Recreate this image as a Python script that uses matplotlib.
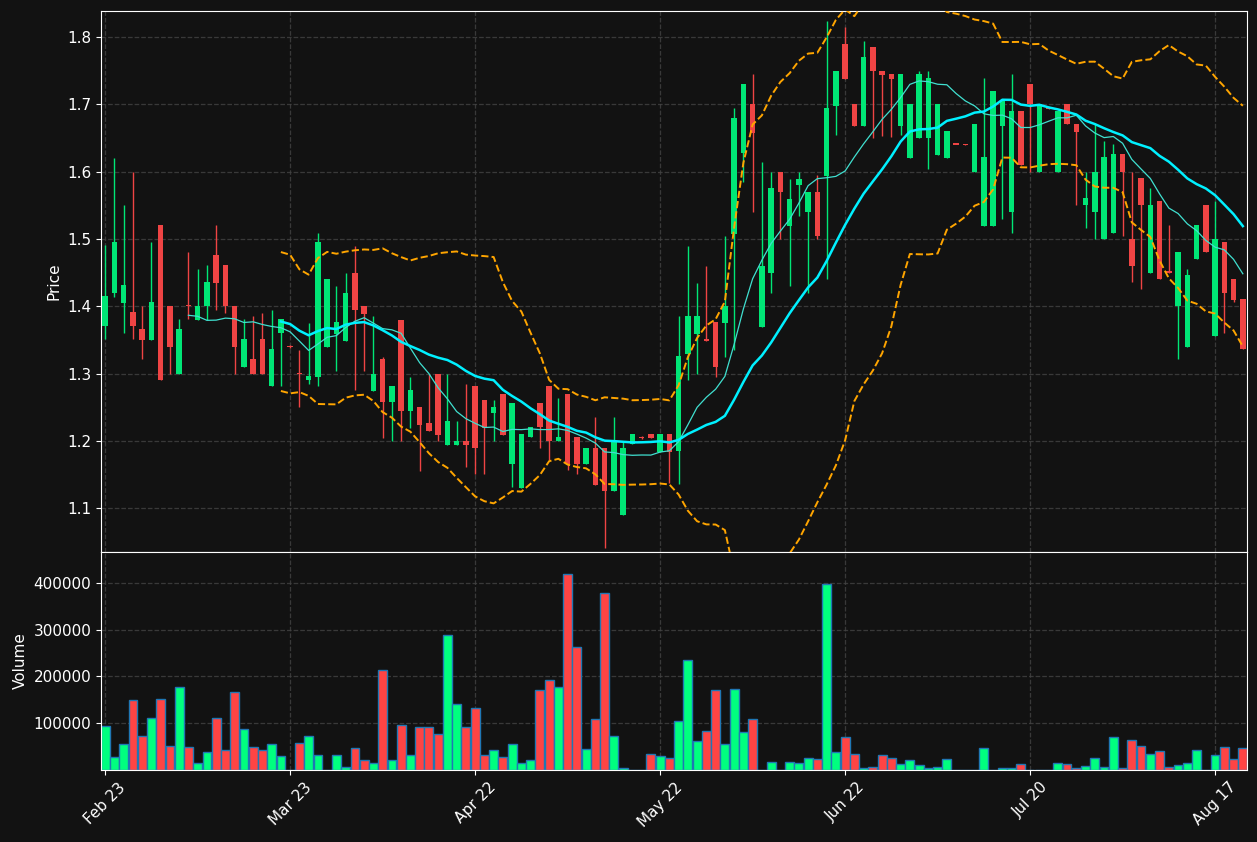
import numpy as np
import pandas as pd
import matplotlib
matplotlib.use("Agg")
import matplotlib.pyplot as plt

# OHLC, one row per trading day
opens = [1.37, 1.42, 1.405, 1.391, 1.366, 1.35, 1.521, 1.4, 1.3, 1.4,
         1.38, 1.4, 1.476, 1.461, 1.4, 1.31, 1.322, 1.351, 1.281, 1.36,
         1.341, 1.3, 1.29, 1.295, 1.339, 1.358, 1.349, 1.45, 1.4, 1.274,
         1.321, 1.258, 1.38, 1.244, 1.25, 1.226, 1.3, 1.194, 1.194, 1.2,
         1.281, 1.26, 1.241, 1.27, 1.165, 1.13, 1.205, 1.256, 1.281, 1.2,
         1.27, 1.205, 1.165, 1.19, 1.19, 1.125, 1.09, 1.195, 1.206, 1.21,
         1.184, 1.21, 1.185, 1.329, 1.359, 1.351, 1.376, 1.375, 1.508, 1.628,
         1.7, 1.369, 1.449, 1.6, 1.519, 1.58, 1.54, 1.57, 1.594, 1.698,
         1.79, 1.7, 1.668, 1.785, 1.75, 1.745, 1.668, 1.62, 1.65, 1.65,
         1.625, 1.62, 1.64, 1.641, 1.6, 1.519, 1.519, 1.668, 1.54, 1.69,
         1.73, 1.6, 1.695, 1.6, 1.7, 1.671, 1.55, 1.54, 1.5, 1.509,
         1.626, 1.5, 1.591, 1.45, 1.556, 1.452, 1.4, 1.34, 1.47, 1.55,
         1.355, 1.495, 1.44, 1.411]
highs = [1.491, 1.62, 1.55, 1.6, 1.4, 1.495, 1.521, 1.4, 1.381, 1.48,
         1.455, 1.461, 1.521, 1.461, 1.4, 1.381, 1.386, 1.39, 1.395, 1.381,
         1.342, 1.335, 1.375, 1.509, 1.44, 1.43, 1.45, 1.49, 1.4, 1.385,
         1.325, 1.281, 1.38, 1.295, 1.25, 1.3, 1.3, 1.3, 1.23, 1.285,
         1.281, 1.26, 1.26, 1.27, 1.256, 1.21, 1.22, 1.256, 1.281, 1.264,
         1.27, 1.205, 1.19, 1.235, 1.19, 1.235, 1.2, 1.21, 1.207, 1.21,
         1.21, 1.21, 1.385, 1.489, 1.435, 1.46, 1.376, 1.504, 1.694, 1.73,
         1.745, 1.614, 1.6, 1.6, 1.589, 1.6, 1.57, 1.595, 1.824, 1.75,
         1.815, 1.7, 1.794, 1.785, 1.75, 1.745, 1.745, 1.7, 1.75, 1.75,
         1.7, 1.66, 1.64, 1.641, 1.67, 1.739, 1.72, 1.705, 1.745, 1.69,
         1.73, 1.7, 1.695, 1.692, 1.7, 1.671, 1.6, 1.671, 1.645, 1.641,
         1.626, 1.6, 1.591, 1.575, 1.556, 1.52, 1.48, 1.455, 1.521, 1.55,
         1.556, 1.495, 1.44, 1.411]
lows = [1.351, 1.414, 1.36, 1.351, 1.321, 1.35, 1.29, 1.3, 1.3, 1.381,
        1.38, 1.38, 1.395, 1.39, 1.3, 1.31, 1.3, 1.3, 1.281, 1.282,
        1.338, 1.25, 1.285, 1.281, 1.339, 1.304, 1.349, 1.275, 1.304, 1.274,
        1.204, 1.2, 1.2, 1.219, 1.155, 1.214, 1.2, 1.194, 1.194, 1.161,
        1.151, 1.151, 1.2, 1.209, 1.131, 1.13, 1.205, 1.19, 1.172, 1.2,
        1.156, 1.151, 1.165, 1.135, 1.041, 1.125, 1.09, 1.195, 1.203, 1.204,
        1.184, 1.137, 1.136, 1.29, 1.3, 1.349, 1.295, 1.325, 1.335, 1.584,
        1.54, 1.369, 1.419, 1.5, 1.43, 1.534, 1.419, 1.5, 1.44, 1.654,
        1.738, 1.668, 1.668, 1.65, 1.653, 1.652, 1.654, 1.62, 1.65, 1.604,
        1.625, 1.62, 1.64, 1.639, 1.6, 1.519, 1.519, 1.53, 1.509, 1.61,
        1.6, 1.6, 1.693, 1.6, 1.67, 1.55, 1.516, 1.5, 1.5, 1.509,
        1.505, 1.436, 1.426, 1.45, 1.44, 1.449, 1.321, 1.34, 1.47, 1.48,
        1.355, 1.36, 1.406, 1.336]
closes = [1.415, 1.496, 1.432, 1.37, 1.35, 1.406, 1.29, 1.34, 1.366, 1.4,
          1.4, 1.436, 1.435, 1.4, 1.34, 1.351, 1.3, 1.3, 1.337, 1.381,
          1.339, 1.299, 1.296, 1.495, 1.44, 1.376, 1.42, 1.394, 1.389, 1.3,
          1.258, 1.281, 1.244, 1.275, 1.224, 1.214, 1.209, 1.23, 1.2, 1.194,
          1.189, 1.219, 1.25, 1.209, 1.256, 1.21, 1.22, 1.22, 1.2, 1.205,
          1.165, 1.165, 1.19, 1.135, 1.125, 1.2, 1.19, 1.21, 1.204, 1.204,
          1.21, 1.184, 1.326, 1.385, 1.385, 1.349, 1.31, 1.4, 1.68, 1.73,
          1.658, 1.46, 1.575, 1.569, 1.56, 1.589, 1.57, 1.504, 1.694, 1.75,
          1.738, 1.668, 1.77, 1.749, 1.744, 1.738, 1.745, 1.7, 1.745, 1.739,
          1.7, 1.66, 1.64, 1.639, 1.67, 1.621, 1.72, 1.705, 1.69, 1.61,
          1.7, 1.7, 1.693, 1.69, 1.67, 1.659, 1.561, 1.6, 1.622, 1.626,
          1.6, 1.46, 1.55, 1.55, 1.44, 1.449, 1.48, 1.447, 1.521, 1.48,
          1.5, 1.42, 1.409, 1.336]
volumes = [94, 28, 55, 150, 72, 112, 152, 52, 178, 50,
           14, 38, 112, 42, 167, 87, 50, 42, 55, 29,
           0, 57, 72, 31, 1, 31, 6, 46, 21, 16,
           214, 21, 97, 31, 91, 91, 76, 289, 142, 91,
           133, 33, 42, 27, 55, 14, 21, 172, 193, 178,
           418, 263, 44, 108, 378, 72, 4, 1, 0, 35,
           29, 25, 104, 235, 63, 84, 172, 55, 174, 82,
           108, 1, 18, 1, 18, 14, 25, 23, 397, 38,
           70, 35, 4, 6, 31, 25, 12, 21, 10, 4,
           6, 23, 0, 1, 1, 46, 0, 4, 4, 12,
           1, 1, 0, 14, 12, 4, 8, 25, 6, 70,
           4, 65, 52, 35, 40, 6, 10, 16, 42, 1,
           33, 50, 23, 46]
volumes = [v * 1000 for v in volumes]

tick_pos = [0, 20, 40, 60, 80, 100, 120]
tick_labels = ["Feb 23", "Mar 23", "Apr 22", "May 22", "Jun 22", "Jul 20", "Aug 17"]

df = pd.DataFrame({"open": opens, "high": highs, "low": lows,
                   "close": closes, "volume": volumes})
df["ma10"] = df["close"].rolling(10).mean()
df["ma20"] = df["close"].rolling(20).mean()
std20 = df["close"].rolling(20).std(ddof=0)
df["upper"] = df["ma20"] + 2 * std20
df["lower"] = df["ma20"] - 2 * std20

BG = "#121212"
UP = "#00e676"
DOWN = "#ef4444"
VUP = "#00ff7f"
VDOWN = "#ff4444"

fig = plt.figure(figsize=(12.57, 8.42), dpi=100, facecolor=BG)
ax = fig.add_axes([101 / 1257, 1 - 552 / 842, 1146 / 1257, 541 / 842])
axv = fig.add_axes([101 / 1257, 1 - 770 / 842, 1146 / 1257, 218 / 842], sharex=ax)

x = np.arange(len(df))
up = df["close"] > df["open"]
colors = np.where(up, UP, DOWN)

ax.vlines(x, df["low"], df["high"], colors=colors, linewidth=1, zorder=2)
body_lo = np.minimum(df["open"], df["close"])
body_h = np.maximum((df["close"] - df["open"]).abs(), 0.002)
ax.bar(x, body_h, bottom=body_lo, width=0.6, color=colors, zorder=3)

ax.plot(x, df["ma10"], color="#40e0d0", lw=0.9, zorder=4)
ax.plot(x, df["ma20"], color="#00f0ff", lw=1.8, zorder=4)
ax.plot(x, df["upper"], color="#ffa500", lw=1.4, ls="--", zorder=4)
ax.plot(x, df["lower"], color="#ffa500", lw=1.4, ls="--", zorder=4)

vcolors = np.where(up, VUP, VDOWN)
axv.bar(x, df["volume"], width=0.95, color=vcolors, edgecolor="#1f77b4", linewidth=1)

for a in (ax, axv):
    a.set_facecolor(BG)
    for s in a.spines.values():
        s.set_color("white")
    a.tick_params(colors="white", labelsize=11)
    a.grid(True, color="#444444", linestyle="--", linewidth=0.9, alpha=0.8)
    a.set_axisbelow(True)

ax.set_xlim(-0.45, 123.45)
ax.set_ylim(1.0348, 1.8386)
ax.set_yticks([1.1, 1.2, 1.3, 1.4, 1.5, 1.6, 1.7, 1.8])
ax.set_ylabel("Price", color="white", fontsize=11)
ax.tick_params(axis="x", labelbottom=False, length=0)

axv.set_ylim(0, 466000)
axv.set_yticks([100000, 200000, 300000, 400000])
axv.ticklabel_format(axis="y", style="plain")
axv.set_ylabel("Volume", color="white", fontsize=11)
axv.set_xticks(tick_pos)
axv.set_xticklabels(tick_labels, rotation=45, ha="center")

fig.savefig("out.png", facecolor=BG)
